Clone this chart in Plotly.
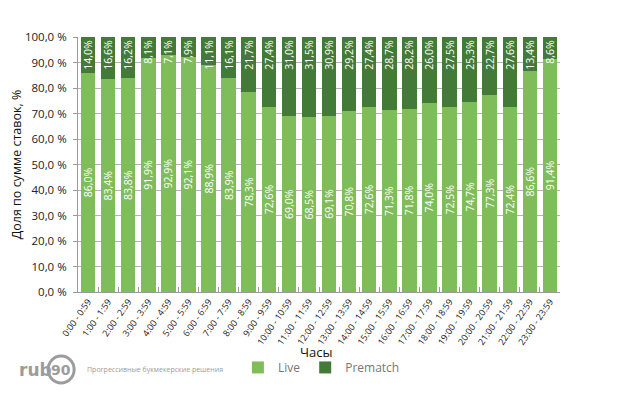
import plotly.graph_objects as go

hours = ["0:00 - 0:59", "1:00 - 1:59", "2:00 - 2:59", "3:00 - 3:59", "4:00 - 4:59",
         "5:00 - 5:59", "6:00 - 6:59", "7:00 - 7:59", "8:00 - 8:59", "9:00 - 9:59",
         "10:00 - 10:59", "11:00 - 11:59", "12:00 - 12:59", "13:00 - 13:59",
         "14:00 - 14:59", "15:00 - 15:59", "16:00 - 16:59", "17:00 - 17:59",
         "18:00 - 18:59", "19:00 - 19:59", "20:00 - 20:59", "21:00 - 21:59",
         "22:00 - 22:59", "23:00 - 23:59"]
live = [86.0, 83.4, 83.8, 91.9, 92.9, 92.1, 88.9, 83.9, 78.3, 72.6, 69.0, 68.5,
        69.1, 70.8, 72.6, 71.3, 71.8, 74.0, 72.5, 74.7, 77.3, 72.4, 86.6, 91.4]
prematch = [14.0, 16.6, 16.2, 8.1, 7.1, 7.9, 11.1, 16.1, 21.7, 27.4, 31.0, 31.5,
            30.9, 29.2, 27.4, 28.7, 28.2, 26.0, 27.5, 25.3, 22.7, 27.6, 13.4, 8.6]
y_ticks = [0, 10, 20, 30, 40, 50, 60, 70, 80, 90, 100]
y_ticktext = [f"{v:.1f} %".replace(".", ",") for v in y_ticks]

FONT = "Open Sans"
LIVE_C = "#7FBD5A"
PRE_C = "#437A38"

fig = go.Figure()
fig.add_trace(go.Bar(
    x=hours, y=live, name="Live", marker_color=LIVE_C, marker_line_width=0,
    texttemplate="%{y:.1f}%", textposition="inside", insidetextanchor="middle",
    textangle=-90, textfont=dict(color="white", size=10.5, family=FONT),
))
fig.add_trace(go.Bar(
    x=hours, y=prematch, name="Prematch", marker_color=PRE_C, marker_line_width=0,
    texttemplate="%{y:.1f}%", textposition="inside", insidetextanchor="end",
    textangle=-90, textfont=dict(color="white", size=10.5, family=FONT),
))

# page body has an 8px offset, so the figure is sized/margined to compensate
fig.update_layout(
    barmode="stack", bargap=0.28,
    width=610, height=392,
    margin=dict(l=70, r=58, t=29, b=108, autoexpand=False),
    paper_bgcolor="white", plot_bgcolor="white",
    separators=", ",
    font=dict(family=FONT, color="#222222"),
    uniformtext=dict(minsize=10.5, mode="show"),
    legend=dict(orientation="h", x=0.505, xanchor="center", y=-0.239, yanchor="top",
                font=dict(size=12, color="#777777", family=FONT),
                itemwidth=30, traceorder="normal"),
    showlegend=True,
)
fig.update_yaxes(
    range=[0, 100], tickvals=y_ticks, ticktext=y_ticktext, automargin=False,
    showgrid=True, gridcolor="#B4B4B4", gridwidth=1,
    showline=True, linecolor="#9A9A9A", linewidth=1,
    ticks="outside", ticklen=4, tickcolor="#9A9A9A", ticklabelstandoff=4,
    tickfont=dict(size=11.5, color="#222222"),
    title=dict(text="Доля по сумме ставок, %", font=dict(size=12.5, color="#111111"), standoff=5),
    zeroline=False,
)
fig.update_xaxes(
    tickangle=-55, tickfont=dict(size=9, color="#222222"), automargin=False,
    showline=True, linecolor="#9A9A9A", linewidth=1,
    ticks="inside", tickson="boundaries", ticklen=5, tickcolor="#9A9A9A",
)

# x-axis title
fig.add_annotation(xref="paper", yref="paper", x=0.494, y=-0.235, xanchor="center", yanchor="middle",
                   text="Часы", showarrow=False, font=dict(size=13, color="#111111", family=FONT))

# logo
fig.add_annotation(xref="paper", yref="paper", x=-0.127, y=-0.305, xanchor="left", yanchor="middle",
                   text="<b>rub</b>", showarrow=False,
                   font=dict(size=17, color="#9C9C9C", family="DejaVu Sans"))
fig.add_shape(type="circle", xref="paper", yref="paper",
              x0=-0.062, x1=-0.008, y0=-0.357, y1=-0.251,
              line=dict(color="#9C9C9C", width=3), fillcolor="white")
fig.add_annotation(xref="paper", yref="paper", x=-0.035, y=-0.305, xanchor="center", yanchor="middle",
                   text="<b>90</b>", showarrow=False,
                   font=dict(size=14, color="#9C9C9C", family="DejaVu Sans"))
fig.add_annotation(xref="paper", yref="paper", x=0.015, y=-0.305, xanchor="left", yanchor="middle",
                   text="Прогрессивные букмекерские решения", showarrow=False,
                   font=dict(size=7, color="#9C9C9C", family=FONT))

fig.write_html("out.html")
